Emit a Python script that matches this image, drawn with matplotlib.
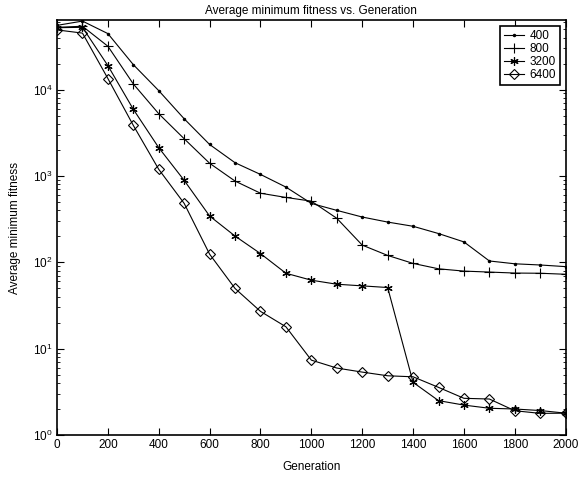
import matplotlib
matplotlib.use("Agg")
import matplotlib.pyplot as plt
from matplotlib.ticker import LogLocator, NullFormatter

plt.rcParams['font.family'] = ['Liberation Sans', 'DejaVu Sans']

generations = [0, 100, 200, 300, 400, 500, 600, 700, 800, 900, 1000,
               1100, 1200, 1300, 1400, 1500, 1600, 1700, 1800, 1900, 2000]

fit_400 = [55300, 62000, 44400, 19400, 9700, 4580, 2310, 1420, 1040, 742, 480,
           399, 334, 292, 261, 215, 172, 103.5, 96, 93, 89]
fit_800 = [52500, 54000, 31700, 11600, 5240, 2690, 1400, 871, 630, 563, 510,
           323, 158, 120, 97, 84, 79, 77, 75, 74.6, 72.6]
fit_3200 = [52000, 52500, 18900, 5900, 2120, 887, 343, 201, 126, 74.6, 62,
            55.7, 53.3, 51, 4.07, 2.5, 2.22, 2.04, 2.0, 1.92, 1.79]
fit_6400 = [49000, 45000, 13400, 3840, 1190, 480, 124, 49.7, 27, 17.9, 7.36,
            5.96, 5.35, 4.85, 4.72, 3.56, 2.66, 2.61, 1.91, 1.78, 1.79]

labels = ['400', '800', '3200', '6400']

FS = 8.5
fig = plt.figure(figsize=(5.79, 4.82), dpi=100)
ax = fig.add_axes([0.0985, 0.0975, 0.977 - 0.0985, 0.9575 - 0.0975])

ax.semilogy(generations, fit_400, '-', color='k', lw=0.8, marker='.', ms=3, label=labels[0])
ax.semilogy(generations, fit_800, '-', color='k', lw=0.8, marker='+', ms=7, mew=0.8, label=labels[1])
ax.semilogy(generations, fit_3200, '-', color='k', lw=0.8, marker=(6, 2, 0), ms=6, mew=0.85, label=labels[2])
ax.semilogy(generations, fit_6400, '-', color='k', lw=0.8, marker='D', ms=4.9, mfc='none', mew=0.8, label=labels[3])

ax.set_xlim(0, 2000)
ax.set_ylim(1, 63000)
ax.set_xticks(range(0, 2001, 200))
ax.yaxis.set_major_locator(LogLocator(base=10, numticks=10))
ax.yaxis.set_minor_locator(LogLocator(base=10, subs=range(2, 10), numticks=20))
ax.yaxis.set_minor_formatter(NullFormatter())

ax.tick_params(which='both', direction='in', top=True, right=True, labelsize=FS, pad=3)
ax.tick_params(which='major', length=5, width=0.8)
ax.tick_params(which='minor', length=2.5, width=0.6)
for s in ax.spines.values():
    s.set_linewidth(1.2)

ax.set_xlabel('Generation', fontsize=FS, labelpad=7)
ax.set_ylabel('Average minimum fitness', fontsize=FS, labelpad=9)
ax.set_title('Average minimum fitness vs. Generation', fontsize=FS, pad=5)

leg = ax.legend(loc='upper right', fontsize=FS, fancybox=False, edgecolor='k',
                framealpha=1, handlelength=1.7, borderpad=0.3, labelspacing=0.1,
                handletextpad=0.5, borderaxespad=0.5)
leg.get_frame().set_linewidth(1.2)

fig.savefig('out.png', dpi=100)
